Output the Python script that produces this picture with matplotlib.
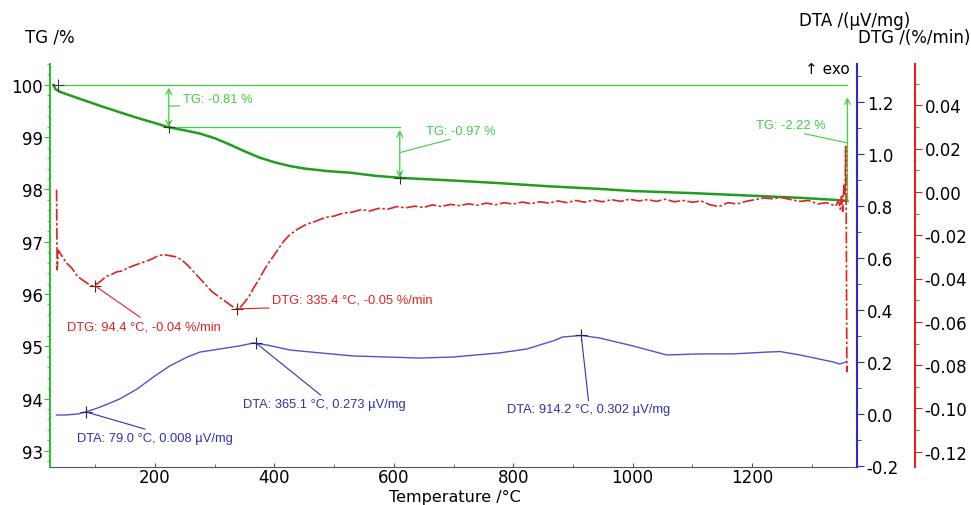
import matplotlib.pyplot as plt
from matplotlib.ticker import MultipleLocator

# TG curve, mass in %
tg_temp = [30, 33, 40, 60, 80, 108, 140, 170, 200, 223, 250, 275, 300, 325, 350,
           375, 400, 425, 450, 490, 527, 570, 614, 700, 778, 860, 945, 1000, 1100,
           1200, 1280, 1340, 1360]
tg_mass = [100.0, 99.92, 99.87, 99.79, 99.71, 99.60, 99.48, 99.37, 99.27, 99.19,
           99.13, 99.07, 98.98, 98.86, 98.73, 98.61, 98.52, 98.45, 98.40, 98.35,
           98.32, 98.26, 98.22, 98.17, 98.12, 98.06, 98.01, 97.97, 97.93, 97.88,
           97.84, 97.80, 97.78]

# DTA curve, uV/mg
dta_temp = [35, 50, 71, 84, 100, 113, 141, 170, 197, 225, 254, 275, 309, 342, 365,
            388, 426, 476, 532, 589, 644, 699, 778, 823, 867, 883, 914, 945, 1000,
            1057, 1113, 1168, 1225, 1247, 1280, 1336, 1347, 1358]
dta_val = [-0.004, -0.004, 0.0, 0.008, 0.02, 0.031, 0.058, 0.096, 0.142, 0.185,
           0.219, 0.238, 0.25, 0.262, 0.273, 0.265, 0.246, 0.235, 0.223, 0.219,
           0.215, 0.219, 0.235, 0.25, 0.281, 0.296, 0.302, 0.292, 0.262, 0.227,
           0.231, 0.231, 0.238, 0.24, 0.227, 0.20, 0.192, 0.20]

dtg_temp = [35, 36, 38, 45, 52, 60, 70, 80, 88, 94, 100, 110, 118, 125, 135, 145,
            155, 165, 175, 185, 195, 205, 215, 225, 235, 245, 255, 265, 275, 285,
            295, 305, 315, 325, 335, 342, 350, 358, 366, 375, 385, 395, 405, 415,
            425, 440, 455, 470, 485, 500, 515, 530, 545, 560, 575, 590, 605, 620,
            635, 650, 665, 680, 695, 710, 725, 740, 755, 770, 785, 800, 815, 830,
            845, 860, 875, 890, 905, 920, 935, 950, 965, 980, 995, 1010, 1025,
            1040, 1055, 1070, 1085, 1100, 1115, 1130, 1145, 1160, 1175, 1190,
            1205, 1220, 1235, 1250, 1265, 1280, 1295, 1310, 1325, 1340, 1345,
            1348, 1350, 1352, 1354, 1356, 1357, 1358, 1359, 1360]
dtg_val = [0.001, -0.036, -0.027, -0.030, -0.033, -0.035, -0.039, -0.041, -0.0425,
           -0.0435, -0.043, -0.041, -0.039, -0.0385, -0.037, -0.0365, -0.035,
           -0.034, -0.033, -0.032, -0.031, -0.0295, -0.029, -0.0295, -0.030,
           -0.0315, -0.034, -0.037, -0.040, -0.043, -0.046, -0.048, -0.050,
           -0.052, -0.054, -0.0535, -0.051, -0.048, -0.044, -0.040, -0.035,
           -0.031, -0.027, -0.023, -0.020, -0.017, -0.0148, -0.0135, -0.0118,
           -0.0112, -0.0098, -0.0094, -0.0082, -0.0088, -0.0076, -0.0080,
           -0.0068, -0.0074, -0.0066, -0.0072, -0.0060, -0.0068, -0.0058,
           -0.0064, -0.0055, -0.0062, -0.0052, -0.0060, -0.0050, -0.0057,
           -0.0047, -0.0055, -0.0046, -0.0052, -0.0042, -0.0050, -0.0040,
           -0.0048, -0.0038, -0.0046, -0.0036, -0.0044, -0.0034, -0.0042,
           -0.0036, -0.0044, -0.0034, -0.0046, -0.0040, -0.0048, -0.0042,
           -0.0060, -0.0068, -0.0050, -0.0056, -0.0044, -0.0036, -0.0028,
           -0.0032, -0.0026, -0.0036, -0.0044, -0.0040, -0.0056, -0.0050,
           -0.0066, -0.004, -0.008, -0.002, -0.009, 0.003, -0.001, 0.021,
           -0.010, -0.083, -0.080]

# mass steps: (temperature of the arrow, upper level, lower level, label)
tg_steps = [(223, 100.0, 99.19, "TG: -0.81 %"),
            (610, 99.19, 98.22, "TG: -0.97 %"),
            (1360, 100.0, 97.78, "TG: -2.22 %")]
tg_text_offsets = [(14, 7), (26, 22), (-91, 18)]

# peak labels: (temperature, value, label)
dta_peaks = [(84, 0.008, "DTA: 79.0 °C, 0.008 µV/mg"),
             (369, 0.273, "DTA: 365.1 °C, 0.273 µV/mg"),
             (914, 0.302, "DTA: 914.2 °C, 0.302 µV/mg")]
dta_text_offsets = [(-9, -26), (-13, -61), (-74, -74)]
dtg_peaks = [(100, -0.0435, "DTG: 94.4 °C, -0.04 %/min"),
             (337, -0.054, "DTG: 335.4 °C, -0.05 %/min")]
dtg_text_offsets = [(-28, -40), (35, 9)]
dtg_rel_y = [1.0, 0.0]

GREEN = "#1f9e1f"
LGREEN = "#3fcf3f"
RED = "#e02222"
BLUE = "#5252cc"
DBLUE = "#3030b8"

ANN_FONT = dict(family="Liberation Sans", fontsize=9.3)


def label(axis, x, y, text, color, offset, rel_y):
    axis.annotate(text, xy=(x, y), xytext=offset, textcoords="offset pixels",
                  ha="left", va="center", color=color, **ANN_FONT,
                  arrowprops=dict(arrowstyle="-", color=color, lw=0.8,
                                  shrinkA=0, shrinkB=0, relpos=(0.5, rel_y)))


fig = plt.figure(figsize=(9.71, 5.06), dpi=100)
ax = fig.add_axes([50 / 971, 38 / 506, 807 / 971, 403 / 506])
ax_dta = ax.twinx()
ax_dtg = ax.twinx()
ax_dtg.spines["right"].set_position(("axes", 1 + 58 / 807))

# curves
ax_dtg.plot(dtg_temp, dtg_val, color=RED, lw=1.2, linestyle=(0, (7, 1.5, 1.5, 1.5)))
ax_dta.plot(dta_temp, dta_val, color=BLUE, lw=1.0)
ax.plot(tg_temp, tg_mass, color=GREEN, lw=1.8)

# TG step annotations
ax.plot([37, 1360], [100.0, 100.0], color=LGREEN, lw=0.9)
ax.plot([tg_steps[0][0], tg_steps[1][0]], [tg_steps[0][2], tg_steps[0][2]],
        color=LGREEN, lw=0.9)
for (t, hi, lo, txt), off in zip(tg_steps, tg_text_offsets):
    style = "->" if t > 1000 else "<->"
    ax.annotate("", xy=(t, hi), xytext=(t, lo),
                arrowprops=dict(arrowstyle=style, color=LGREEN, lw=0.9,
                                shrinkA=0, shrinkB=9 if t > 1000 else 2))
    label(ax, t, (hi + lo) / 2, txt, LGREEN, off, 0.0)
ax.plot([37] + [s[0] for s in tg_steps[:2]], [100.0, tg_steps[0][2], tg_steps[1][2]],
        "+", color="#333333", ms=8, mew=0.8)

# peak annotations
for (t, v, txt), off in zip(dta_peaks, dta_text_offsets):
    ax_dta.plot(t, v, "+", color="#222266", ms=8, mew=0.8)
    label(ax_dta, t, v, txt, DBLUE, off, 1.0)
for (t, v, txt), off, ry in zip(dtg_peaks, dtg_text_offsets, dtg_rel_y):
    ax_dtg.plot(t, v, "+", color="#552222", ms=8, mew=0.8)
    label(ax_dtg, t, v, txt, RED, off, ry)

# limits
ax.set_xlim(24, 1376)
ax.set_ylim(92.69, 100.4)
ax_dta.set_ylim(-0.204, 1.346)
ax_dtg.set_ylim(-0.127, 0.059)

# axes styling
ax.spines["top"].set_visible(False)
ax.spines["right"].set_visible(False)
ax.spines["left"].set_color("#33bb33")
ax.spines["left"].set_linewidth(1.5)
ax.spines["bottom"].set_color("#555555")
for a in (ax_dta, ax_dtg):
    for s in ("top", "left", "bottom"):
        a.spines[s].set_visible(False)
ax_dta.spines["right"].set_color("#2b2bcc")
ax_dta.spines["right"].set_linewidth(1.5)
ax_dtg.spines["right"].set_color(RED)
ax_dtg.spines["right"].set_linewidth(1.5)

ax.xaxis.set_major_locator(MultipleLocator(200))
ax.xaxis.set_minor_locator(MultipleLocator(100))
ax.yaxis.set_major_locator(MultipleLocator(1))
ax.yaxis.set_minor_locator(MultipleLocator(0.2))
ax_dta.yaxis.set_major_locator(MultipleLocator(0.2))
ax_dta.yaxis.set_minor_locator(MultipleLocator(0.1))
ax_dtg.yaxis.set_major_locator(MultipleLocator(0.02))
ax_dtg.yaxis.set_minor_locator(MultipleLocator(0.01))
ax_dta.yaxis.set_major_formatter(lambda v, p: f"{v:.1f}")
ax_dtg.yaxis.set_major_formatter(lambda v, p: f"{v:.2f}")

ax.tick_params(axis="x", which="both", direction="in", colors="#555555",
               labelcolor="black", labelsize=12, pad=0.5)
ax.tick_params(axis="x", which="major", length=3)
ax.tick_params(axis="x", which="minor", length=2.5)
ax.tick_params(axis="y", which="both", colors="#33bb33", labelcolor="black",
               labelsize=12, pad=1)
ax.tick_params(axis="y", which="major", length=4)
ax.tick_params(axis="y", which="minor", length=2.5)
ax_dta.tick_params(axis="y", which="both", colors="#2b2bcc", labelcolor="black",
                   labelsize=12, pad=2)
ax_dta.tick_params(axis="y", which="major", length=5)
ax_dta.tick_params(axis="y", which="minor", length=3)
ax_dtg.tick_params(axis="y", which="both", colors=RED, labelcolor="black",
                   labelsize=12, pad=2)
ax_dtg.tick_params(axis="y", which="major", length=5)
ax_dtg.tick_params(axis="y", which="minor", length=3)

# axis titles
fig.text(25 / 971, 1 - 38 / 506, "TG /%", fontsize=12, ha="left", va="center")
fig.text(910 / 971, 1 - 21 / 506, "DTA /(µV/mg)", fontsize=12, ha="right", va="center")
fig.text(970 / 971, 1 - 38 / 506, "DTG /(%/min)", fontsize=12, ha="right", va="center")
fig.text(455 / 971, 0.5 / 506, "Temperature /°C", fontsize=11.5, ha="center", va="bottom")
fig.text(850 / 971, 1 - 69 / 506, "↑ exo", fontsize=11, ha="right", va="center")

fig.savefig("out.png", dpi=100)
